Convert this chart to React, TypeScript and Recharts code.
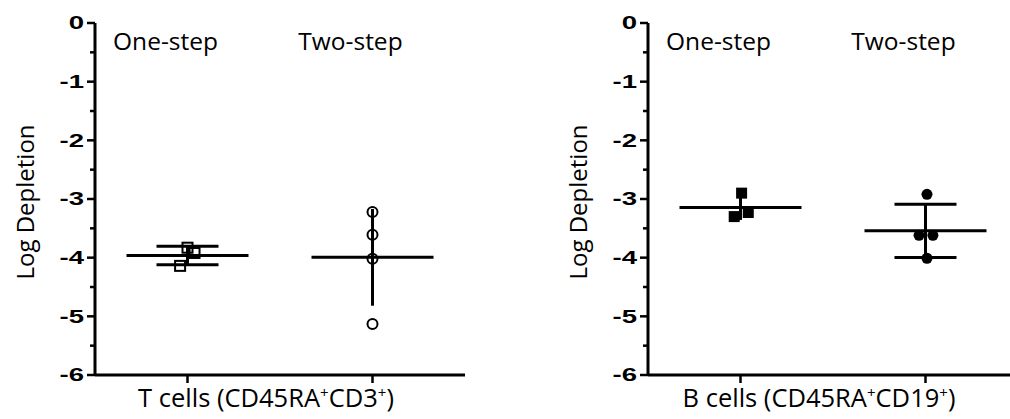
import { ScatterChart, Scatter, XAxis, YAxis, ErrorBar } from 'recharts';

const categories = ['One-step', 'Two-step'];
const yTicks = [-6, -5.5, -5, -4.5, -4, -3.5, -3, -2.5, -2, -1.5, -1, -0.5, 0];

// T cells (CD45RA+CD3+)
const tOneStep = [-3.83, -3.92, -4.14];
const tOneStepJitter = [0, 0.038, -0.04];
const tTwoStep = [-3.22, -3.61, -4.02, -5.13];
const tTwoStepJitter = [0, 0, 0, 0];

// B cells (CD45RA+CD19+)
const bOneStep = [-2.9, -3.23, -3.3];
const bOneStepJitter = [0.006, 0.042, -0.034];
const bTwoStep = [-2.92, -3.62, -3.62, -4.01];
const bTwoStepJitter = [0.008, -0.035, 0.04, 0.008];

const FONT = '"Open Sans", "Noto Sans", sans-serif';

const mean = (v: number[]) => v.reduce((a, b) => a + b, 0) / v.length;
const sd = (v: number[]) => {
  const m = mean(v);
  return Math.sqrt(v.reduce((a, b) => a + (b - m) ** 2, 0) / (v.length - 1));
};

type Group = {
  index: number;
  values: number[];
  jitter: number[];
  marker: 'openSquare' | 'openCircle' | 'square' | 'circle';
  cap: number;
};

const markerShape = (kind: Group['marker']) => (p: any) => {
  const { cx, cy } = p;
  if (kind === 'openSquare')
    return <rect x={cx - 5} y={cy - 5} width={10} height={10} fill="none" stroke="#000" strokeWidth={2} />;
  if (kind === 'openCircle')
    return <circle cx={cx} cy={cy} r={5} fill="none" stroke="#000" strokeWidth={2} />;
  if (kind === 'square')
    return <rect x={cx - 5.5} y={cy - 5.5} width={11} height={11} fill="#000" />;
  return <circle cx={cx} cy={cy} r={5.5} fill="#000" />;
};

const meanShape = (p: any) => (
  <line x1={p.cx - 61} x2={p.cx + 61} y1={p.cy} y2={p.cy} stroke="#000" strokeWidth={3} />
);

const labelShape = (p: any) => (
  <text x={p.cx - 22} y={p.cy + 27} textAnchor="middle" fontFamily={FONT} fontSize={24.5} fill="#000">
    {p.payload.label}
  </text>
);

function YTick(props: any) {
  const { x, y, payload } = props;
  const major = Number.isInteger(payload.value);
  return (
    <g>
      <line x1={x - (major ? 8 : 5)} x2={x} y1={y} y2={y} stroke="#000" strokeWidth={2.5} />
      {major && (
        <text
          transform={`translate(${x - 11},${y}) scale(1.45,1)`}
          textAnchor="end"
          dominantBaseline="central"
          fontFamily='"Liberation Sans", Arial, sans-serif'
          fontWeight="bold"
          fontSize={19}
          fill="#000"
        >
          {payload.value}
        </text>
      )}
    </g>
  );
}

function XTick(props: any) {
  const { x, y } = props;
  return <line x1={x} x2={x} y1={y} y2={y + 8} stroke="#000" strokeWidth={2.5} />;
}

function Panel({ groups, cell, marker }: { groups: Group[]; cell: string; marker: string }) {
  return (
    <ScatterChart width={560} height={419} margin={{ top: 23, right: 95, bottom: 0, left: 0 }}>
      <XAxis
        type="number"
        dataKey="x"
        domain={[-0.5, 1.5]}
        ticks={[0, 1]}
        interval={0}
        tick={(p: any) => <XTick {...p} />}
        tickLine={false}
        tickSize={0}
        tickMargin={0}
        height={44}
        axisLine={{ stroke: '#000', strokeWidth: 3 }}
        label={{
          content: (p: any) => {
            const vb = p.viewBox;
            return (
              <text x={vb.x + vb.width / 2 - 14} y={vb.y + 32} textAnchor="middle" fontFamily={FONT} fontSize={25.5} fill="#000">
                {cell} (CD45RA
                <tspan dy={-9} fontSize={15}>+</tspan>
                <tspan dy={9}>{marker}</tspan>
                <tspan dy={-9} fontSize={15}>+</tspan>
                <tspan dy={9}>)</tspan>
              </text>
            );
          },
        }}
      />
      <YAxis
        type="number"
        dataKey="y"
        domain={[-6, 0]}
        ticks={yTicks}
        interval={0}
        tick={(p: any) => <YTick {...p} />}
        tickLine={false}
        tickSize={0}
        tickMargin={0}
        width={95}
        axisLine={{ stroke: '#000', strokeWidth: 3 }}
        label={{
          content: (p: any) => {
            const vb = p.viewBox;
            const cx = vb.x + 24;
            const cy = vb.y + vb.height / 2 + 3;
            return (
              <text
                x={cx}
                y={cy}
                transform={`rotate(-90 ${cx} ${cy})`}
                textAnchor="middle"
                dominantBaseline="central"
                fontFamily={FONT}
                fontSize={24}
                fill="#000"
              >
                Log Depletion
              </text>
            );
          },
        }}
      />
      <Scatter
        data={categories.map((label, i) => ({ x: i, y: 0, label }))}
        shape={labelShape}
        isAnimationActive={false}
      />
      {groups.map((g) => (
        <Scatter
          key={`m${g.index}`}
          data={[{ x: g.index, y: mean(g.values), sd: sd(g.values) }]}
          shape={meanShape}
          isAnimationActive={false}
        >
          <ErrorBar
            dataKey="sd"
            direction="y"
            width={g.cap}
            stroke="#000"
            strokeWidth={3}
            isAnimationActive={false}
          />
        </Scatter>
      ))}
      {groups.map((g) => (
        <Scatter
          key={`p${g.index}`}
          data={g.values.map((v, i) => ({ x: g.index + g.jitter[i], y: v }))}
          shape={markerShape(g.marker)}
          isAnimationActive={false}
        />
      ))}
    </ScatterChart>
  );
}

export default function App() {
  const tGroups: Group[] = [
    { index: 0, values: tOneStep, jitter: tOneStepJitter, marker: 'openSquare', cap: 31 },
    { index: 1, values: tTwoStep, jitter: tTwoStepJitter, marker: 'openCircle', cap: 0 },
  ];
  const bGroups: Group[] = [
    { index: 0, values: bOneStep, jitter: bOneStepJitter, marker: 'square', cap: 0 },
    { index: 1, values: bTwoStep, jitter: bTwoStepJitter, marker: 'circle', cap: 31 },
  ];
  return (
    <div style={{ position: 'absolute', left: 0, top: 0, width: 1010, height: 419, overflow: 'hidden', background: '#fff' }}>
      <div style={{ position: 'absolute', left: 0, top: 0 }}>
        <Panel groups={tGroups} cell="T cells" marker="CD3" />
      </div>
      <div style={{ position: 'absolute', left: 553, top: 0 }}>
        <Panel groups={bGroups} cell="B cells" marker="CD19" />
      </div>
    </div>
  );
}
